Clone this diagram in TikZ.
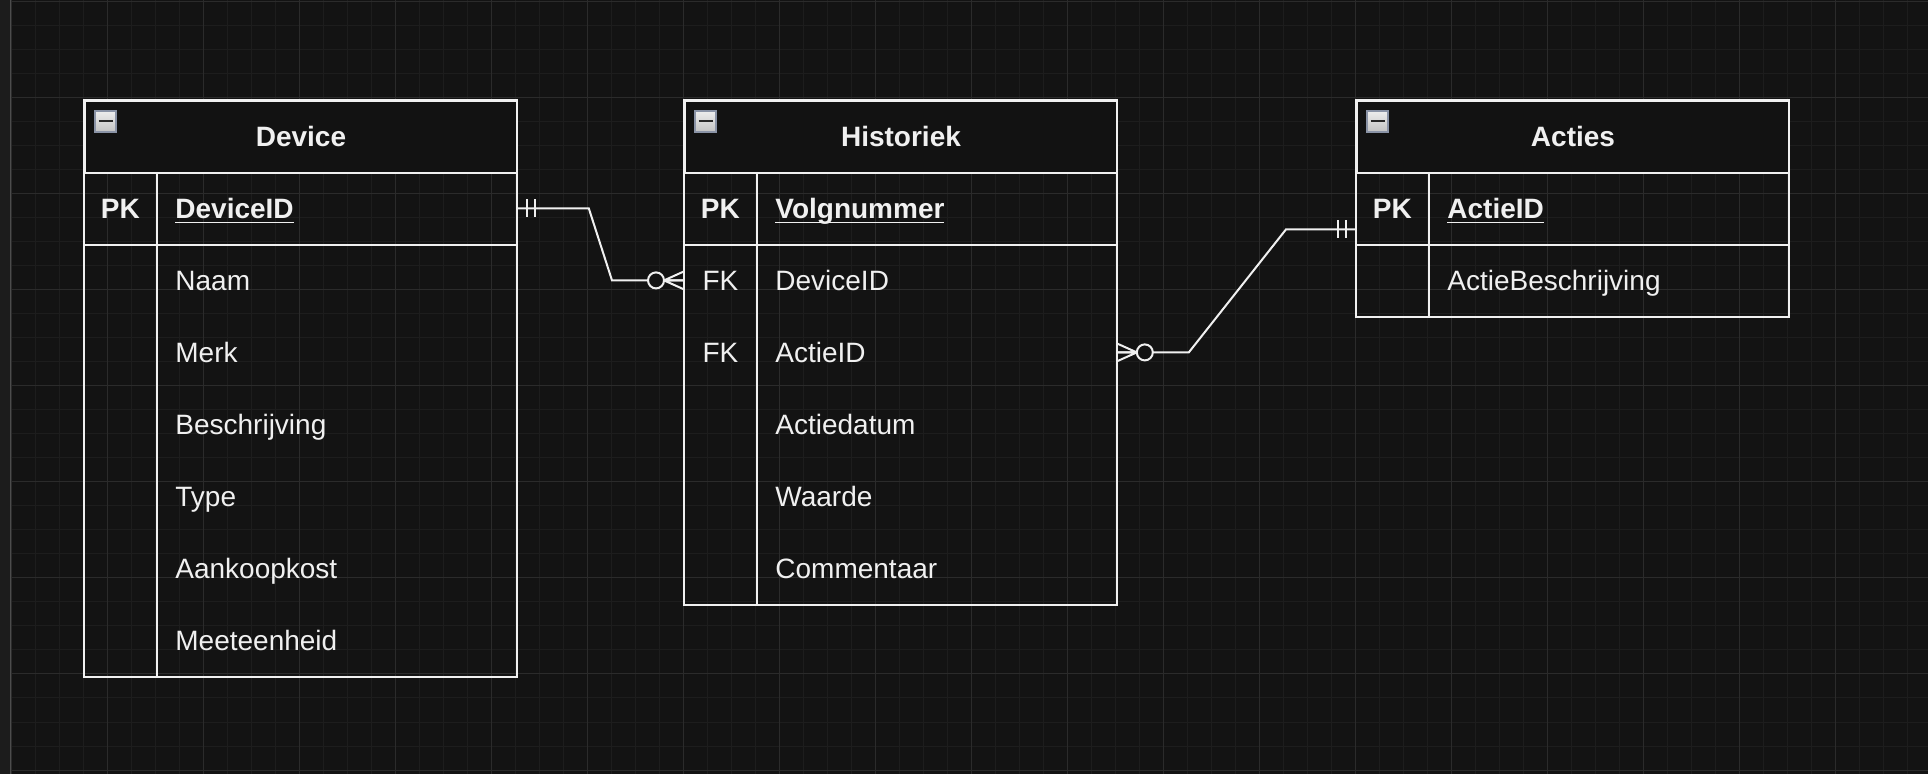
\documentclass[tikz,border=0pt]{standalone}
\usepackage{fontspec}
\setmainfont{Liberation Sans}
\usepackage{tikz}
\usetikzlibrary{positioning,calc}
\definecolor{canvas}{HTML}{131313}
\definecolor{gridminor}{HTML}{1D1D1D}
\definecolor{gridmajor}{HTML}{2B2B2B}
\definecolor{panel}{HTML}{1C1C1C}
\definecolor{ink}{HTML}{F0F0F0}
\definecolor{headfill}{HTML}{121212}
\definecolor{togedge}{HTML}{8A93A6}
\newcommand\bodyfont{\fontsize{14}{16}\selectfont}
\newcommand\pkname[1]{\setbox0\hbox{#1}\rlap{\rule[-2.4pt]{\wd0}{0.8pt}}\box0}
\tikzset{
  onebar/.pic={
    \draw[ink, line width=1pt] (10,-9) -- (10,9) (18,-9) -- (18,9);
  },
  zeromany/.pic={
    \draw[ink, line width=1pt] (0,-9) -- (20,0) -- (0,9) (0,0) -- (20,0);
    \draw[ink, line width=1pt, fill=canvas] (28,0) circle[radius=4pt];
  },
}

\begin{document}
\begin{tikzpicture}[x=0.5pt, y=-0.5pt,
    tbl/.style={draw=ink, line width=1pt},
    hdr/.style={tbl, fill=headfill, text=ink, anchor=north west, inner sep=0pt,
                minimum width=216pt, minimum height=36pt, text height=10pt,
                text depth=0pt, font=\bodyfont\bfseries},
    keycell/.style={text=ink, anchor=north west, inner sep=0pt, minimum width=36pt,
                minimum height=36pt, text height=10pt, text depth=0pt, font=\bodyfont},
    fieldcell/.style={text=ink, anchor=north west, inner xsep=9.5pt, inner ysep=0pt,
                text width=161pt, align=left, minimum height=36pt, text height=10pt,
                text depth=0pt, font=\bodyfont},
    tog/.style={draw=togedge, line width=1pt, top color=white!93!black,
                bottom color=white!76!black, minimum size=10.5pt, inner sep=0pt,
                anchor=north west, text=black!85},
    link/.style={draw=ink, line width=1pt},
  ]
  % canvas and grid
  \fill[canvas] (0,0) rectangle (1928,774);
  \useasboundingbox (0,0) rectangle (1928,774);
  \fill[panel] (0,0) rectangle (10,774);
  \draw[black!70, line width=0.5pt] (10.5,0) -- (10.5,774);
  \foreach \gx in {11,35,...,1907} \draw[gridminor, line width=0.5pt] (\gx,0) -- (\gx,774);
  \foreach \gy in {2,26,...,770} \draw[gridminor, line width=0.5pt] (11,\gy) -- (1928,\gy);
  \foreach \gx in {11,107,...,1907} \draw[gridmajor, line width=0.5pt] (\gx,0) -- (\gx,774);
  \foreach \gy in {2,98,...,770} \draw[gridmajor, line width=0.5pt] (11,\gy) -- (1928,\gy);

  % Device
  \node[hdr] (dev) at (84,100) {Device};
  \node[keycell, font=\bodyfont\bfseries] (dev-k0) at (84,172) {PK};
  \node[fieldcell, font=\bodyfont\bfseries] (dev-f0) at (156,172) {\pkname{DeviceID}};
  \foreach \name [count=\i] in {Naam,Merk,Beschrijving,Type,Aankoopkost,Meeteenheid}
    \node[fieldcell] (dev-f\i) at (156,{172+72*\i}) {\name};
  \draw[tbl] (dev.north west) rectangle (dev-f6.south east);
  \draw[tbl] (dev-k0.south west) -- (dev-f0.south east);
  \draw[tbl] (dev-k0.north east) -- (dev-k0.north east |- dev-f6.south);
  \node[tog] (dev-tog) at ($(dev.north west)+(10,10)$) {\rule{7pt}{1pt}};

  % Historiek
  \node[hdr] (his) at (684,100) {Historiek};
  \node[keycell, font=\bodyfont\bfseries] (his-k0) at (684,172) {PK};
  \node[fieldcell, font=\bodyfont\bfseries] (his-f0) at (756,172) {\pkname{Volgnummer}};
  \node[keycell] (his-k1) at (684,244) {FK};
  \node[keycell] (his-k2) at (684,316) {FK};
  \foreach \name [count=\i] in {DeviceID,ActieID,Actiedatum,Waarde,Commentaar}
    \node[fieldcell] (his-f\i) at (756,{172+72*\i}) {\name};
  \draw[tbl] (his.north west) rectangle (his-f5.south east);
  \draw[tbl] (his-k0.south west) -- (his-f0.south east);
  \draw[tbl] (his-k0.north east) -- (his-k0.north east |- his-f5.south);
  \node[tog] (his-tog) at ($(his.north west)+(10,10)$) {\rule{7pt}{1pt}};

  % Acties
  \node[hdr] (act) at (1356,100) {Acties};
  \node[keycell, font=\bodyfont\bfseries] (act-k0) at (1356,172) {PK};
  \node[fieldcell, font=\bodyfont\bfseries] (act-f0) at (1428,172) {\pkname{ActieID}};
  \node[fieldcell] (act-f1) at (1428,244) {ActieBeschrijving};
  \draw[tbl] (act.north west) rectangle (act-f1.south east);
  \draw[tbl] (act-k0.south west) -- (act-f0.south east);
  \draw[tbl] (act-k0.north east) -- (act-k0.north east |- act-f1.south);
  \node[tog] (act-tog) at ($(act.north west)+(10,10)$) {\rule{7pt}{1pt}};

  % relations
  \coordinate (act-in) at ($(act-k0.west)+(0,21)$);
  \draw[link] (dev-f0.east) -- ++(72,0) -- ($(his-k1.west)+(-72,0)$) -- (his-k1.west);
  \draw[link] (his-f2.east) -- ++(72,0) -- ($(act-in)+(-70,0)$) -- (act-in);
  \pic at (dev-f0.east) {onebar};
  \pic[xscale=-1] at (his-k1.west) {zeromany};
  \pic at (his-f2.east) {zeromany};
  \pic[xscale=-1] at (act-in) {onebar};
\end{tikzpicture}
\end{document}
